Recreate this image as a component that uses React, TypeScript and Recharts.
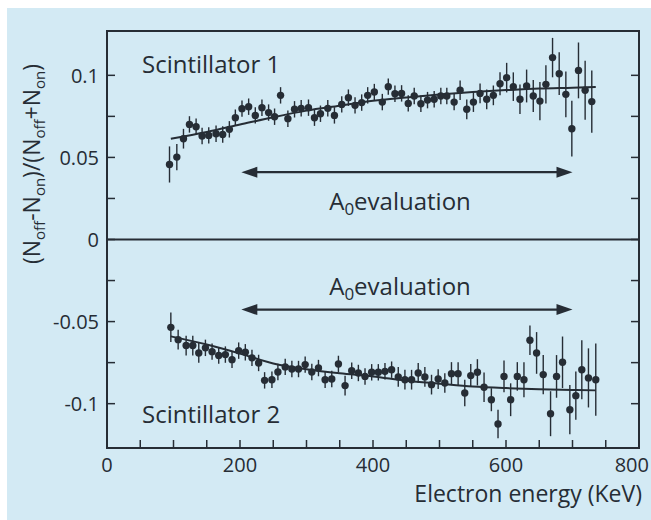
import React from "react";
import {
  ComposedChart,
  Scatter,
  Line,
  XAxis,
  YAxis,
  ErrorBar,
  ReferenceLine,
  ReferenceArea,
} from "recharts";

// ---------- data ----------
const S1_ENERGY = [94, 105, 115, 124, 134, 143, 153, 164, 174, 184, 193, 203, 213, 223, 233, 243, 252, 261, 272, 282, 292, 303, 312, 321, 332, 342, 353, 363, 373, 383, 392, 402, 414, 423, 433, 443, 453, 462, 472, 482, 492, 502, 511, 522, 531, 541, 551, 561, 571, 581, 591, 601, 611, 621, 631, 641, 651, 660, 670, 680, 690, 699, 709, 719, 729];
const S1_VALUE = [0.0457, 0.0502, 0.0614, 0.0701, 0.0687, 0.063, 0.0634, 0.0644, 0.064, 0.0671, 0.0742, 0.0797, 0.0809, 0.0756, 0.0803, 0.0773, 0.0748, 0.0878, 0.0736, 0.0793, 0.0799, 0.0803, 0.0742, 0.0766, 0.0799, 0.0756, 0.0823, 0.0864, 0.0817, 0.0834, 0.0878, 0.0898, 0.0837, 0.0931, 0.0888, 0.089, 0.0829, 0.0874, 0.0827, 0.0849, 0.0854, 0.0874, 0.0874, 0.0837, 0.0909, 0.0793, 0.0837, 0.089, 0.0854, 0.0878, 0.0949, 0.0986, 0.0931, 0.0854, 0.0935, 0.0874, 0.0843, 0.0945, 0.1108, 0.101, 0.0884, 0.0675, 0.103, 0.0909, 0.084];
const S1_ERROR = [0.011, 0.008, 0.006, 0.005, 0.005, 0.005, 0.005, 0.005, 0.005, 0.005, 0.005, 0.005, 0.005, 0.005, 0.005, 0.005, 0.005, 0.005, 0.005, 0.005, 0.005, 0.005, 0.005, 0.005, 0.005, 0.005, 0.005, 0.005, 0.005, 0.005, 0.005, 0.005, 0.005, 0.005, 0.005, 0.005, 0.005, 0.005, 0.005, 0.005, 0.005, 0.005, 0.005, 0.005, 0.006, 0.006, 0.006, 0.006, 0.006, 0.006, 0.007, 0.009, 0.0087, 0.009, 0.01, 0.0097, 0.0117, 0.0117, 0.012, 0.013, 0.014, 0.017, 0.017, 0.018, 0.019];

const S2_ENERGY = [96, 107, 119, 129, 138, 148, 158, 168, 178, 188, 198, 208, 218, 228, 237, 248, 257, 268, 278, 288, 298, 308, 318, 328, 338, 348, 358, 368, 378, 388, 398, 408, 418, 428, 438, 448, 458, 468, 478, 488, 498, 508, 518, 528, 538, 547, 557, 567, 578, 588, 597, 607, 617, 627, 636, 646, 656, 667, 676, 685, 696, 705, 714, 724, 735];
const S2_VALUE = [-0.0535, -0.061, -0.0646, -0.0646, -0.0691, -0.066, -0.0683, -0.0707, -0.0701, -0.0732, -0.0677, -0.0687, -0.0721, -0.0752, -0.0858, -0.0854, -0.0807, -0.0776, -0.0789, -0.0789, -0.0762, -0.0807, -0.0783, -0.0854, -0.085, -0.0758, -0.089, -0.0799, -0.0813, -0.0834, -0.0809, -0.0809, -0.0803, -0.0793, -0.0837, -0.0854, -0.0854, -0.0813, -0.0837, -0.0884, -0.085, -0.0874, -0.0817, -0.0817, -0.0935, -0.0829, -0.0809, -0.09, -0.0976, -0.1124, -0.0834, -0.0976, -0.0834, -0.0854, -0.0614, -0.0691, -0.0823, -0.1061, -0.0834, -0.0748, -0.1037, -0.0951, -0.0793, -0.0843, -0.0854];
const S2_ERROR = [0.009, 0.006, 0.006, 0.006, 0.006, 0.005, 0.005, 0.005, 0.005, 0.005, 0.005, 0.005, 0.005, 0.005, 0.005, 0.005, 0.005, 0.005, 0.005, 0.005, 0.005, 0.005, 0.005, 0.005, 0.005, 0.005, 0.006, 0.005, 0.005, 0.005, 0.005, 0.005, 0.005, 0.005, 0.006, 0.006, 0.006, 0.006, 0.006, 0.006, 0.006, 0.006, 0.007, 0.007, 0.008, 0.007, 0.008, 0.009, 0.007, 0.0087, 0.0097, 0.01, 0.0087, 0.0107, 0.009, 0.0127, 0.012, 0.0137, 0.013, 0.0157, 0.015, 0.0147, 0.018, 0.018, 0.022];

const FIT1_ENERGY = [96, 150, 200, 250, 300, 350, 400, 450, 500, 550, 600, 650, 700, 735];
const FIT1_VALUE = [0.0614, 0.0655, 0.07, 0.0745, 0.0785, 0.0815, 0.0845, 0.0865, 0.0883, 0.0898, 0.091, 0.092, 0.0925, 0.0929];
const FIT2_ENERGY = [96, 150, 200, 250, 300, 350, 400, 450, 500, 550, 600, 650, 700, 735];
const FIT2_VALUE = [-0.059, -0.064, -0.0695, -0.0755, -0.079, -0.0815, -0.0834, -0.086, -0.0878, -0.0895, -0.0905, -0.0912, -0.0917, -0.0919];

const X_TICKS = [0, 50, 100, 150, 200, 250, 300, 350, 400, 450, 500, 550, 600, 650, 700, 750, 800];
const X_LABELED = [0, 200, 400, 600, 800];
const Y_TICKS = [-0.1, -0.075, -0.05, -0.025, 0, 0.025, 0.05, 0.075, 0.1];
const Y_LABELED = [-0.1, -0.05, 0, 0.05, 0.1];

const ARROW_RANGE = [202, 700];
const ARROW1_Y = 0.041;
const ARROW2_Y = -0.0427;

const s1 = S1_ENERGY.map((x, i) => ({ x, v: S1_VALUE[i], e: S1_ERROR[i] }));
const s2 = S2_ENERGY.map((x, i) => ({ x, v: S2_VALUE[i], e: S2_ERROR[i] }));
const fit1 = FIT1_ENERGY.map((x, i) => ({ x, v: FIT1_VALUE[i] }));
const fit2 = FIT2_ENERGY.map((x, i) => ({ x, v: FIT2_VALUE[i] }));

// ---------- styles ----------
const INK = "#262d35";
const BG = "#d3eaf4";
const FONT = "'Open Sans', sans-serif";

const fmtY = (v: number) => {
  if (Math.abs(v) < 1e-9) return "0";
  return String(v);
};

const LeftTick = (props: any) => {
  const { x, y, payload } = props;
  const v = payload.value;
  const labeled = Y_LABELED.some((t) => Math.abs(t - v) < 1e-9);
  return (
    <g>
      <line x1={x} x2={x + 8} y1={y} y2={y} stroke={INK} strokeWidth={1.5} />
      {labeled && (
        <text x={x - 8} y={y} dy="0.36em" textAnchor="end" fontSize={20} fill={INK} fontFamily={FONT}>
          {fmtY(v)}
        </text>
      )}
    </g>
  );
};

const RightTick = (props: any) => {
  const { x, y } = props;
  return <line x1={x - 8} x2={x} y1={y} y2={y} stroke={INK} strokeWidth={1.5} />;
};

const BottomTick = (props: any) => {
  const { x, y, payload } = props;
  const v = payload.value;
  const labeled = X_LABELED.includes(v);
  const isLast = v === X_TICKS[X_TICKS.length - 1];
  return (
    <g>
      <line x1={x} x2={x} y1={y} y2={y - 8} stroke={INK} strokeWidth={1.5} />
      {labeled && (
        <text
          x={isLast ? x + 10 : x}
          y={y + 24}
          textAnchor={isLast ? "end" : "middle"}
          fontSize={20}
          fill={INK}
          fontFamily={FONT}
        >
          {v}
        </text>
      )}
    </g>
  );
};

const Dot = (props: any) => {
  const { cx, cy } = props;
  return <circle cx={cx} cy={cy} r={3.7} fill={INK} />;
};

const ArrowShape = (props: any) => {
  const { x1, y1, x2, y2 } = props;
  const L = 16;
  const H = 5.5;
  return (
    <g>
      <line x1={x1 + L - 2} y1={y1} x2={x2 - L + 2} y2={y2} stroke={INK} strokeWidth={2.2} />
      <polygon points={`${x1},${y1} ${x1 + L},${y1 - H} ${x1 + L},${y1 + H}`} fill={INK} />
      <polygon points={`${x2},${y2} ${x2 - L},${y2 - H} ${x2 - L},${y2 + H}`} fill={INK} />
    </g>
  );
};

export default function App() {
  return (
    <div style={{ position: "relative", width: 651, height: 520, background: "#ffffff", overflow: "hidden" }}>
      <style>{`body{margin:0;}`}</style>
      <div style={{ position: "absolute", left: 7, top: 8, right: 0, bottom: 0, background: BG }} />
      <div style={{ position: "absolute", left: 0, top: 0 }}>
        <ComposedChart width={651} height={520} margin={{ top: 31, right: 0, bottom: 12, left: 0 }}>
          <XAxis
            dataKey="x"
            type="number"
            domain={[0, 800]}
            ticks={X_TICKS}
            interval={0}
            allowDataOverflow
            height={60}
            tickSize={0}
            tickMargin={0}
            axisLine={false}
            tickLine={false}
            tick={<BottomTick />}
          />
          <YAxis
            yAxisId="l"
            dataKey="v"
            type="number"
            domain={[-0.127, 0.127]}
            ticks={Y_TICKS}
            interval={0}
            allowDataOverflow
            width={107}
            tickSize={0}
            tickMargin={0}
            axisLine={false}
            tickLine={false}
            tick={<LeftTick />}
          />
          <YAxis
            yAxisId="r"
            orientation="right"
            type="number"
            domain={[-0.127, 0.127]}
            ticks={Y_TICKS}
            interval={0}
            allowDataOverflow
            width={12}
            tickSize={0}
            tickMargin={0}
            axisLine={false}
            tickLine={false}
            tick={<RightTick />}
          />
          <ReferenceArea
            yAxisId="l"
            x1={0}
            x2={800}
            y1={-0.127}
            y2={0.127}
            fill="none"
            stroke={INK}
            strokeWidth={2}
            fillOpacity={0}
            ifOverflow="visible"
          />
          <ReferenceLine yAxisId="l" y={0} stroke={INK} strokeWidth={1.8} />
          <ReferenceLine
            yAxisId="l"
            segment={[
              { x: ARROW_RANGE[0], y: ARROW1_Y },
              { x: ARROW_RANGE[1], y: ARROW1_Y },
            ]}
            shape={<ArrowShape />}
          />
          <ReferenceLine
            yAxisId="l"
            segment={[
              { x: ARROW_RANGE[0], y: ARROW2_Y },
              { x: ARROW_RANGE[1], y: ARROW2_Y },
            ]}
            shape={<ArrowShape />}
          />
          <Line
            yAxisId="l"
            data={fit1}
            dataKey="v"
            type="monotone"
            stroke={INK}
            strokeWidth={2}
            dot={false}
            activeDot={false}
            isAnimationActive={false}
          />
          <Line
            yAxisId="l"
            data={fit2}
            dataKey="v"
            type="monotone"
            stroke={INK}
            strokeWidth={2}
            dot={false}
            activeDot={false}
            isAnimationActive={false}
          />
          <Scatter yAxisId="l" data={s1} dataKey="v" shape={<Dot />} isAnimationActive={false}>
            <ErrorBar dataKey="e" direction="y" width={0} stroke={INK} strokeWidth={1.4} isAnimationActive={false} />
          </Scatter>
          <Scatter yAxisId="l" data={s2} dataKey="v" shape={<Dot />} isAnimationActive={false}>
            <ErrorBar dataKey="e" direction="y" width={0} stroke={INK} strokeWidth={1.4} isAnimationActive={false} />
          </Scatter>

          <text x={142} y={73} fontSize={24} fill={INK} fontFamily={FONT}>
            Scintillator 1
          </text>
          <text x={142} y={423} fontSize={24} fill={INK} fontFamily={FONT}>
            Scintillator 2
          </text>
          <text x={400} y={210} textAnchor="middle" fontSize={24} fill={INK} fontFamily={FONT}>
            A<tspan dy={5} fontSize={17}>0</tspan>
            <tspan dy={-5}>evaluation</tspan>
          </text>
          <text x={400} y={295} textAnchor="middle" fontSize={24} fill={INK} fontFamily={FONT}>
            A<tspan dy={5} fontSize={17}>0</tspan>
            <tspan dy={-5}>evaluation</tspan>
          </text>
          <text x={642} y={502} textAnchor="end" fontSize={23} fill={INK} fontFamily={FONT}>
            Electron energy (KeV)
          </text>
          <text transform="translate(40,164) rotate(-90)" textAnchor="middle" fontSize={23} fill={INK} fontFamily={FONT}>
            (N<tspan dy={5} fontSize={15}>off</tspan>
            <tspan dy={-5}>-N</tspan>
            <tspan dy={5} fontSize={15}>on</tspan>
            <tspan dy={-5}>)/(N</tspan>
            <tspan dy={5} fontSize={15}>off</tspan>
            <tspan dy={-5}>+N</tspan>
            <tspan dy={5} fontSize={15}>on</tspan>
            <tspan dy={-5}>)</tspan>
          </text>
        </ComposedChart>
      </div>
    </div>
  );
}
